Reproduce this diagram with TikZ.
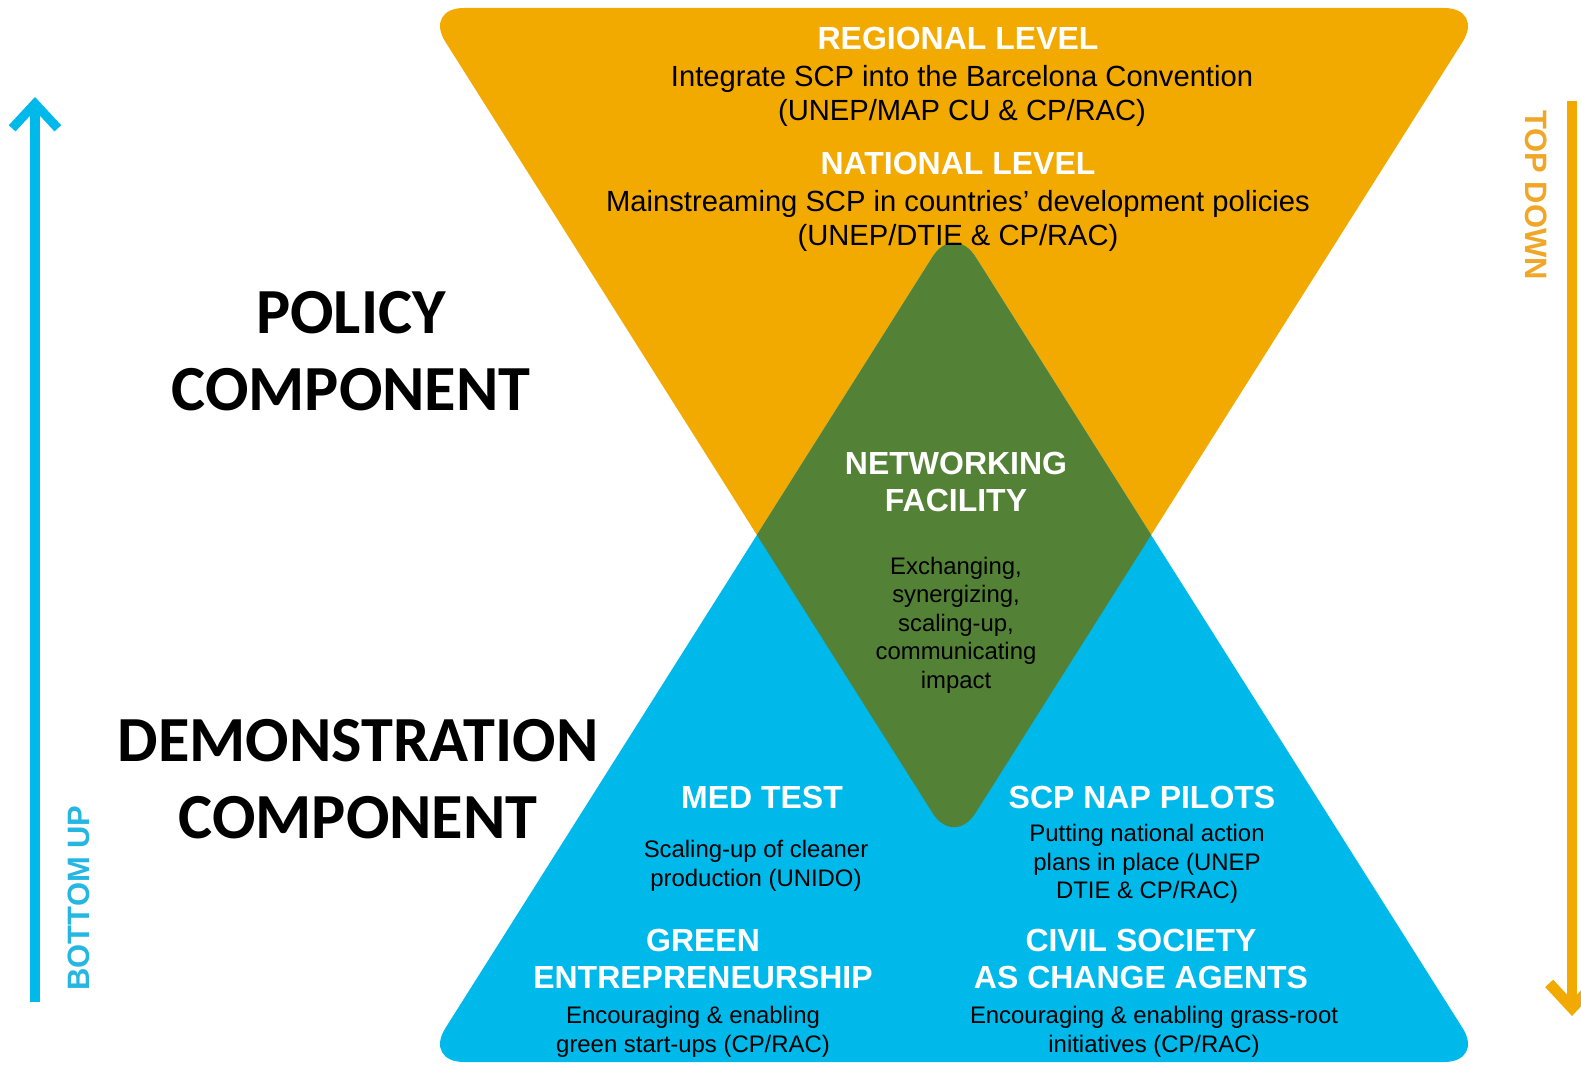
\documentclass[tikz,border=0pt]{standalone}
\usepackage{fontspec}
\setmainfont{Liberation Sans}
\newfontfamily\compfont{Carlito}
\usetikzlibrary{arrows.meta}
\definecolor{scporange}{RGB}{242,169,0}
\definecolor{scpblue}{RGB}{0,185,235}
\definecolor{scpgreen}{RGB}{83,129,53}
\definecolor{labelblue}{RGB}{38,182,226}
\definecolor{labelorange}{RGB}{240,166,38}
\begin{document}
\begin{tikzpicture}[x=0.1mm,y=-0.1mm,
    head/.style={text=white,font=\fontsize{9.1}{10.8}\selectfont\bfseries,align=center},
    body/.style={font=\fontsize{8.3}{9.7}\selectfont,align=center},
    small/.style={font=\fontsize{6.8}{8.1}\selectfont,align=center},
    comp/.style={font=\compfont\fontsize{18.3}{21.9}\selectfont\bfseries,align=center},
    side/.style={font=\fontsize{8.8}{10}\selectfont\bfseries},
    tri/.style={rounded corners=4mm}]
  \useasboundingbox (0,0) rectangle (1581,1065);
  \coordinate (top-l) at (424,8);
  \coordinate (top-r) at (1484,8);
  \coordinate (top-apex) at (954,847);
  \coordinate (bot-l) at (424,1062);
  \coordinate (bot-r) at (1484,1062);
  \coordinate (bot-apex) at (954,223);
  \fill[scporange,tri] (top-l) -- (top-r) -- (top-apex) -- cycle;
  \fill[scpblue,tri] (bot-l) -- (bot-r) -- (bot-apex) -- cycle;
  \begin{scope}
    \clip[tri] (bot-l) -- (bot-r) -- (bot-apex) -- cycle;
    \fill[scpgreen,tri] (top-l) -- (top-r) -- (top-apex) -- cycle;
  \end{scope}
  \coordinate (up-foot) at (35,1002);
  \coordinate (up-tip) at (35,97);
  \coordinate (down-foot) at (1572,101);
  \coordinate (down-tip) at (1572,1016);
  \draw[scpblue,line width=2.6pt,-{Straight Barb[length=7pt,width=13pt]}] (up-foot) -- (up-tip);
  \draw[scporange,line width=3.1pt,-{Straight Barb[length=7pt,width=13pt]}] (down-foot) -- (down-tip);
  \node[head] (reg-head) at (958,38) {REGIONAL LEVEL};
  \node[body] (reg-text) at (962,96) {Integrate SCP into the Barcelona Convention\\(UNEP/MAP CU \& CP/RAC)};
  \node[head] (nat-head) at (958,163) {NATIONAL LEVEL};
  \node[body] (nat-text) at (958,221) {Mainstreaming SCP in countries’ development policies\\(UNEP/DTIE \& CP/RAC)};
  \node[head] (net-head) at (956,482) {NETWORKING\\FACILITY};
  \node[small] (net-text) at (956,625) {Exchanging,\\synergizing,\\scaling-up,\\communicating\\impact};
  \node[head] (med-head) at (762,797) {MED TEST};
  \node[small] (med-text) at (756,866) {Scaling-up of cleaner\\production (UNIDO)};
  \node[head] (nap-head) at (1142,797) {SCP NAP PILOTS};
  \node[small] (nap-text) at (1147,864) {Putting national action\\plans in place (UNEP\\DTIE \& CP/RAC)};
  \node[head] (green-head) at (703,959) {GREEN\\ENTREPRENEURSHIP};
  \node[small] (green-text) at (693,1032) {Encouraging \& enabling\\green start-ups (CP/RAC)};
  \node[head] (civil-head) at (1141,959) {CIVIL SOCIETY\\AS CHANGE AGENTS};
  \node[small] (civil-text) at (1154,1032) {Encouraging \& enabling grass-root\\initiatives (CP/RAC)};
  \node[comp] (policy) at (351,351) {POLICY\\COMPONENT};
  \node[comp] (demo) at (358,779) {DEMONSTRATION\\COMPONENT};
  \node[side,text=labelorange,rotate=-90] (topdown) at (1536,195) {TOP DOWN};
  \node[side,text=labelblue,rotate=90] (bottomup) at (79,898) {BOTTOM UP};
\end{tikzpicture}
\end{document}
